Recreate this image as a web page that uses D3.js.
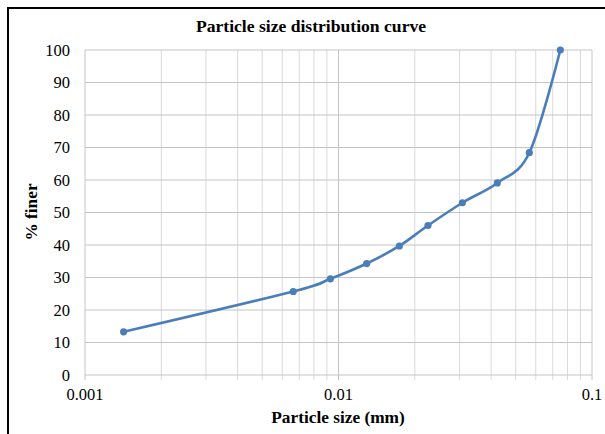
<!DOCTYPE html>
<html>
<head>
<meta charset="utf-8">
<script src="https://cdn.jsdelivr.net/npm/d3@7"></script>
<style>
  html, body { margin: 0; background: #fff; overflow: hidden; }
  svg { display: block; }
  text { font-family: "Liberation Serif", "Times New Roman", serif; fill: #000; }
</style>
</head>
<body>
<svg id="chart" width="605" height="434"></svg>
<script>
'use strict';

// particle size (mm) and percent finer
const sizes = [0.00142, 0.00663, 0.00929, 0.01292, 0.01738, 0.02254, 0.0308, 0.0423, 0.0566, 0.075];
const finer = [13.3, 25.7, 29.6, 34.3, 39.7, 46.0, 53.0, 59.1, 68.4, 100];
const yTicks = [0, 10, 20, 30, 40, 50, 60, 70, 80, 90, 100];
const xTicks = [0.001, 0.01, 0.1];
const xLabels = ['0.001', '0.01', '0.1'];

const svg = d3.select('#chart');
const plotL = 85, plotR = 592, plotT = 50, plotB = 375;

// outer frame: only the left and top edges are inside the picture
svg.append('path')
    .attr('d', 'M8,434V8H605')
    .attr('fill', 'none')
    .attr('stroke', '#000')
    .attr('stroke-width', 2);

const x = d3.scaleLog().domain([0.001, 0.1]).range([plotL, plotR]);
const y = d3.scaleLinear().domain([0, 100]).range([plotB, plotT]);

// minor vertical gridlines: 2..9 in each decade
const minor = [];
[0.001, 0.01].forEach(d => {
    for (let k = 2; k <= 9; k++) minor.push(d * k);
});

svg.append('g').selectAll('line')
    .data(minor)
    .enter()
    .append('line')
    .attr('x1', d => x(d)).attr('x2', d => x(d))
    .attr('y1', plotT).attr('y2', plotB + 5)
    .attr('stroke', '#dadada')
    .attr('stroke-width', 1);

// major vertical lines
svg.append('g').selectAll('line')
    .data(xTicks)
    .enter()
    .append('line')
    .attr('x1', d => x(d)).attr('x2', d => x(d))
    .attr('y1', plotT).attr('y2', plotB + 5)
    .attr('stroke', '#c4c4c4')
    .attr('stroke-width', 1);

// horizontal gridlines
svg.append('g').selectAll('line')
    .data(yTicks)
    .enter()
    .append('line')
    .attr('x1', plotL).attr('x2', plotR)
    .attr('y1', d => y(d)).attr('y2', d => y(d))
    .attr('stroke', '#c4c4c4')
    .attr('stroke-width', 1);

// y tick labels
svg.append('g').selectAll('text')
    .data(yTicks)
    .enter()
    .append('text')
    .attr('x', 70)
    .attr('y', d => y(d))
    .attr('dy', '0.35em')
    .attr('text-anchor', 'end')
    .attr('font-size', '16.5px')
    .text(d => d);

// x tick labels
svg.append('g').selectAll('text')
    .data(xTicks)
    .enter()
    .append('text')
    .attr('x', d => x(d))
    .attr('y', 400)
    .attr('text-anchor', 'middle')
    .attr('font-size', '16.5px')
    .text((d, i) => xLabels[i]);

// the curve
const line = d3.line()
    .x(d => x(d[0]))
    .y(d => y(d[1]))
    .curve(d3.curveCardinal.tension(0));

const pts = sizes.map((s, i) => [s, finer[i]]);

svg.append('path')
    .datum(pts)
    .attr('d', line)
    .attr('fill', 'none')
    .attr('stroke', '#4a7ebb')
    .attr('stroke-width', 2.6);

svg.append('g').selectAll('circle')
    .data(pts)
    .enter()
    .append('circle')
    .attr('cx', d => x(d[0]))
    .attr('cy', d => y(d[1]))
    .attr('r', 3.6)
    .attr('fill', '#4a7ebb');

// titles
svg.append('text')
    .attr('x', 311).attr('y', 32)
    .attr('text-anchor', 'middle')
    .attr('font-size', '17.6px')
    .attr('font-weight', 'bold')
    .text('Particle size distribution curve');

svg.append('text')
    .attr('x', 338).attr('y', 423)
    .attr('text-anchor', 'middle')
    .attr('font-size', '17.3px')
    .attr('font-weight', 'bold')
    .text('Particle size (mm)');

svg.append('text')
    .attr('transform', 'translate(37,212) rotate(-90)')
    .attr('text-anchor', 'middle')
    .attr('font-size', '17.3px')
    .attr('font-weight', 'bold')
    .text('% finer');
</script>
</body>
</html>
